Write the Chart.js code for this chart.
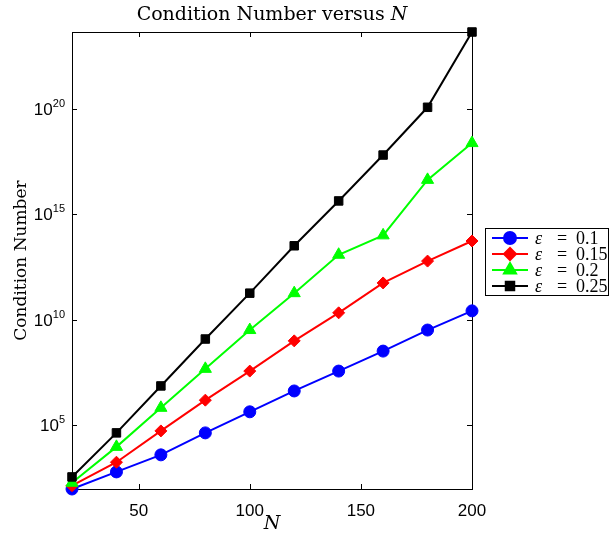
<!DOCTYPE html>
<html>
<head>
<meta charset="utf-8">
<script src="https://cdn.jsdelivr.net/npm/chart.js@4.4.1/dist/chart.umd.min.js"></script>
<style>
  html, body { margin: 0; padding: 0; background: #fff; }
</style>
</head>
<body>
<canvas id="chart" width="609" height="537"></canvas>
<script>
// N values on the x axis
const nValues = [20, 40, 60, 80, 100, 120, 140, 160, 180, 200];

// condition numbers (log scale)
const condEps010 = [9.1e1, 5.9e2, 3.8e3, 4.2e4, 4.2e5, 4.1e6, 3.6e7, 3.2e8, 3.2e9, 2.6e10];
const condEps015 = [1.3e2, 1.7e3, 5.2e4, 1.5e6, 3.6e7, 9.8e8, 2.1e10, 5.5e11, 6.0e12, 5.4e13];
const condEps020 = [1.8e2, 9.1e3, 6.5e5, 4.6e7, 3.2e9, 1.8e11, 1.2e13, 1.0e14, 4.3e16, 2.4e18];
const condEps025 = [3.4e2, 4.2e4, 7.1e6, 1.2e9, 1.8e11, 3.2e13, 4.3e15, 6.5e17, 1.2e20, 4.5e23];

const epsLabels = ['0.1', '0.15', '0.2', '0.25'];
const xTicks = [50, 100, 150, 200];
const yTickExps = [5, 10, 15, 20];

const serif = '"DejaVu Serif", "Liberation Serif", serif';
const legendSerif = '"Liberation Serif", "DejaVu Serif", serif';
const sans = '"Liberation Sans", Arial, sans-serif';

function series(values, color, style, radius, order) {
  return {
    data: values,
    borderColor: color,
    backgroundColor: color,
    pointBackgroundColor: color,
    pointBorderColor: color,
    borderWidth: 2,
    pointStyle: style,
    pointRadius: radius,
    pointBorderWidth: 1,
    tension: 0,
    clip: false,
    order: order
  };
}

// frame, inward ticks, titles, y labels and legend drawn like MATLAB
const matlabLook = {
  id: 'matlabLook',
  beforeDatasetsDraw(chart) {
    const { ctx, chartArea: a, scales: { x, y } } = chart;
    ctx.save();
    ctx.strokeStyle = '#000';
    ctx.lineWidth = 1;
    ctx.strokeRect(a.left + 0.5, a.top + 0.5, a.right - a.left, a.bottom - a.top);
    ctx.beginPath();
    xTicks.forEach(v => {
      const px = Math.round(x.getPixelForValue(v)) + 0.5;
      ctx.moveTo(px, a.bottom); ctx.lineTo(px, a.bottom - 5);
      ctx.moveTo(px, a.top); ctx.lineTo(px, a.top + 5);
    });
    yTickExps.forEach(e => {
      const py = Math.round(y.getPixelForValue(Math.pow(10, e))) + 0.5;
      ctx.moveTo(a.left, py); ctx.lineTo(a.left + 5, py);
      ctx.moveTo(a.right, py); ctx.lineTo(a.right - 5, py);
    });
    ctx.stroke();
    ctx.restore();
  },
  afterDraw(chart) {
    const { ctx, chartArea: a, scales: { y } } = chart;
    const cx = (a.left + a.right) / 2;
    ctx.save();
    ctx.fillStyle = '#000';
    ctx.textBaseline = 'alphabetic';

    // title
    ctx.font = '19px ' + serif;
    const t1 = 'Condition Number versus ';
    const w1 = ctx.measureText(t1).width;
    ctx.font = 'italic 19px ' + serif;
    const w2 = ctx.measureText('N').width;
    let tx = cx - (w1 + w2) / 2;
    ctx.font = '19px ' + serif;
    ctx.textAlign = 'left';
    ctx.fillText(t1, tx, 20);
    ctx.font = 'italic 19px ' + serif;
    ctx.fillText('N', tx + w1, 20);

    // x axis title
    ctx.font = 'italic 19px ' + serif;
    ctx.textAlign = 'center';
    ctx.fillText('N', cx, 529);

    // y axis title
    ctx.save();
    ctx.translate(26, (a.top + a.bottom) / 2);
    ctx.rotate(-Math.PI / 2);
    ctx.font = '17px ' + serif;
    ctx.textAlign = 'center';
    ctx.fillText('Condition Number', 0, 0);
    ctx.restore();

    // y tick labels 10^e
    yTickExps.forEach(e => {
      const py = y.getPixelForValue(Math.pow(10, e));
      ctx.font = '11px ' + sans;
      const ew = ctx.measureText(String(e)).width;
      ctx.textAlign = 'right';
      ctx.fillText(String(e), a.left - 7, py - 2);
      ctx.font = '17px ' + sans;
      ctx.fillText('10', a.left - 7 - ew, py + 6);
    });

    // legend
    const lx = 485, ly = 228, lw = 123, lh = 67;
    ctx.fillStyle = '#fff';
    ctx.fillRect(lx, ly, lw, lh);
    ctx.strokeStyle = '#000';
    ctx.lineWidth = 1;
    ctx.strokeRect(lx + 0.5, ly + 0.5, lw, lh);
    chart.data.datasets.forEach((ds, i) => {
      const ry = ly + 10 + i * 16;
      ctx.strokeStyle = ds.borderColor;
      ctx.lineWidth = 2;
      ctx.beginPath();
      ctx.moveTo(lx + 7, ry); ctx.lineTo(lx + 43, ry);
      ctx.stroke();
      ctx.fillStyle = ds.backgroundColor;
      ctx.strokeStyle = ds.borderColor;
      Chart.helpers.drawPoint(ctx, { pointStyle: ds.pointStyle, radius: ds.pointRadius, rotation: 0, borderWidth: 1 }, lx + 25, ry);
      ctx.fillStyle = '#000';
      ctx.textAlign = 'left';
      ctx.font = 'italic 18px ' + legendSerif;
      ctx.fillText('\u03b5', lx + 50, ry + 6);
      ctx.font = '18px ' + legendSerif;
      ctx.fillText('=', lx + 72, ry + 6);
      ctx.fillText(epsLabels[i], lx + 91, ry + 6);
    });
    ctx.restore();
  }
};

new Chart(document.getElementById('chart'), {
  type: 'line',
  data: {
    labels: nValues,
    datasets: [
      series(condEps010, '#0000ff', 'circle', 6, 4),
      series(condEps015, '#ff0000', 'rectRot', 6, 3),
      series(condEps020, '#00ff00', 'triangle', 7, 2),
      series(condEps025, '#000000', 'rect', 6, 1)
    ]
  },
  options: {
    responsive: false,
    animation: false,
    layout: { padding: { top: 32, right: 137, left: 0, bottom: 0 } },
    plugins: { legend: { display: false }, tooltip: { enabled: false } },
    scales: {
      x: {
        type: 'linear',
        min: 20,
        max: 200,
        grid: { display: false },
        border: { display: false },
        afterBuildTicks: s => { s.ticks = xTicks.map(v => ({ value: v })); },
        afterFit: s => { s.height = 48; },
        ticks: {
          color: '#000',
          font: { family: sans, size: 17 },
          padding: 4,
          maxRotation: 0
        }
      },
      y: {
        type: 'logarithmic',
        min: 9.1e1,
        max: 4.5e23,
        grid: { display: false },
        border: { display: false },
        afterBuildTicks: s => { s.ticks = yTickExps.map(e => ({ value: Math.pow(10, e) })); },
        afterFit: s => { s.width = 72; },
        ticks: { display: false }
      }
    }
  },
  plugins: [matlabLook]
});
</script>
</body>
</html>
